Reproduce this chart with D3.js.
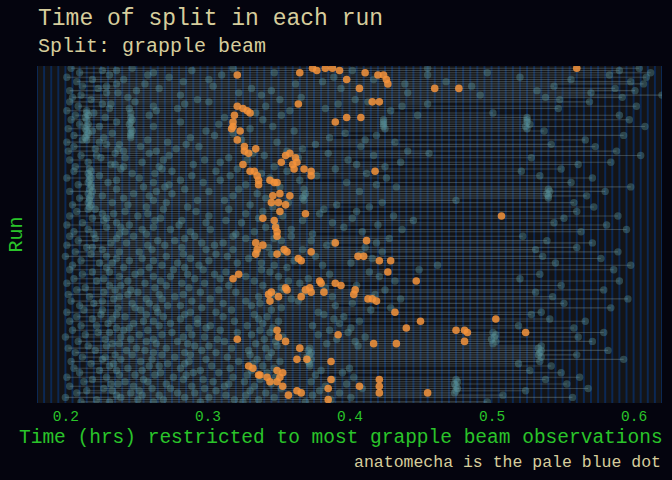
<!DOCTYPE html>
<html><head><meta charset="utf-8">
<script src="https://cdn.jsdelivr.net/npm/d3@7"></script>
<style>html,body{margin:0;padding:0;background:#04040e;}svg{display:block}</style>
</head><body>
<svg id="chart" width="672" height="480"></svg>
<script>
// ---- data (times in thousandths of an hour) ----
const titleText = "Time of split in each run";
const subtitleText = "Split: grapple beam";
const xTitleText = "Time (hrs) restricted to most grapple beam observations";
const yTitleText = "Run";
const captionText = "anatomecha is the pale blue dot";
const xTicks = [0.2, 0.3, 0.4, 0.5, 0.6];
const xTickLabels = ["0.2", "0.3", "0.4", "0.5", "0.6"];
const xDomain = [0.18, 0.62];
const runCount = 150;

// other runners' split times, one array per run (index = run - 1)
const tealRuns = [
[204,247,318,455,604],[226,236,289,402,590],[210,262,347,497,612],[231,258,310,455,583],[201,273,389,520,609],
[219,241,301,417,556],[208,283,381,468,598],[236,256,362,439,607],[212,229,304,486,544],[223,266,331,394,587],
[203,250,345,532,601],[229,237,322,441,570],[211,281,338,492,620],[205,244,366,538,592],[218,293,351,404,548],
[203,249,301,413,569],[226,232,284,392,455],[209,262,341,437,602],[231,245,279,383,547],[201,215,264,358,429],
[220,215,246,334,501],[207,216,259,352,448,590],[228,214,246,312,525],[204,215,247,339,424,525,597],[236,246,281,424,525],
[210,216,245,308,424,527],[224,215,262,346,424,524,608],[202,214,246,330,425,525],[219,215,247,299,361,537],[233,216,246,318,397],
[206,215,246,305,419,593],[227,214,246,288,386],[212,215,258,324,411,566],[201,224,272,349,432],[229,238,285,376,542],
[206,253,294,408,573],[221,237,278,367],[202,241,264,356,441,588],[235,259,332,385,456],[211,222,273,340,417,605],
[225,242,315,364,528],[203,269,298,328,399],[216,254,309,436,584],[232,235,290,405,561],[207,241,266,347,425],
[217,239,268,321,390,549],[206,218,275,306,356,521],[216,247,263,338,412],[224,217,289,316,377,534],[201,218,252,344,426,571],
[217,236,281,309,365],[230,216,262,297,398,556],[209,218,273,327,419],[218,255,270,351,433,598],[236,217,284,322,368,540],
[203,219,264,301,407,541,580],[216,248,275,335,369,539],[226,218,259,318,368,540,567],[210,217,241,341,367,540],[217,262,293,312,368,475],
[233,216,271,357,423,558],[205,218,244,330,391],[217,257,286,346,414,572],[221,216,269,315,382],[208,242,292,339,405,560],
[234,226,258,327,379],[203,251,301,353,431,589],[219,229,267,336,402,551],[227,263,282,313,367,445],[212,236,299,324,388,544],
[201,245,280,348,420,581],[229,239,262,341,396],[216,254,274,302,359,437,595],[206,242,288,333,409,563],[238,220,257,320,374],
[203,248,291,318,359,522],[221,236,284,327,347,428],[209,265,277,352,373,539],[232,243,296,311,389,419,571],[201,258,270,305,384],
[215,219,282,343,411,560],[226,261,299,318,367,531],[207,238,252,335,352,423,589],[218,283,306,345,408],[200,229,271,314,376,536],
[236,254,288,329,416,577],[211,245,262,301,361],[224,233,279,321,338,401,545],[205,268,294,347,381,462,598],[229,241,259,284,356],
[203,276,297,338,449,586],[219,231,253,313,344,414],[212,249,286,305,386,534],[238,262,274,327,350,421],[206,227,291,309,371,520],
[222,244,267,333,357,432,590],[201,256,282,298,365],[231,239,271,315,339,405,549],[214,263,287,352,383],[208,235,246,308,354,425,579],
[227,251,295,320,368,531],[202,244,266,283,347,418],[217,238,277,336,388,543],[234,257,268,302,359,436,596],[204,226,289,327,364],
[220,247,259,311,337,402,551],[210,272,281,331,390],[237,249,264,296,352,429,584],[213,226,253,317,345,415],[201,265,288,306,378,535],
[225,236,257,284,333,382,528],[208,242,269,311,342,396],[219,233,281,293,336,389,541],[203,255,262,319,350,407,566],[230,248,274,293,339,393],
[211,222,266,302,328,374,519],[236,245,287,299,346,401,558],[205,241,258,309,337,386],[223,231,275,321,344,399,501,579],[214,252,268,289,331,378,503],
[200,239,283,298,353,411,502,561],[228,246,262,307,340,391,500],[209,257,279,312,348,404,503,571],[233,238,264,286,334,384,501],[216,229,291,301,349,406,535],
[202,250,271,317,341,372,533],[221,243,256,296,329,371,535,582],[207,262,284,306,345,373,534],[235,247,268,288,330,372,533,560],[212,228,277,314,343,370,535],
[226,239,261,299,335,373,593],[204,253,287,322,351,371,534],[218,234,272,284,332,372,519],[231,259,266,303,339,372,542],[206,244,281,316,347,400],
[224,236,254,295,331,380,527],[210,267,290,308,342,395,549],[238,249,263,285,328,376],[201,229,276,318,348,403,562],[219,255,283,297,337,388,475,538],
[213,242,258,304,326,373,476],[232,237,271,315,345,398,474,553],[203,248,289,312,333,383,475],[227,261,274,298,352,409,476,568],[215,233,252,306,330,379,475,524],
[208,246,279,291,341,393,474],[236,254,266,313,327,374,508],[200,239,284,301,347,401,557],[222,251,269,319,336,387],[211,231,262,295,325,369,497]
];

// anatomecha's split times: [run, time]
const anaPoints = [
[4,321],[3,365],[1,374],[2,377],[1,383],[1,388],[2,393],[6,398],[3,411],[4,420],[4,424],[6,426],[8,427],[10,407],[17,364],[16,416],[16,421],[10,460],[10,477],[1,560],
[18,321],[19,325],[20,328],[21,330],[22,319],[25,318],[27,318],[28,317],[29,323],[25,390],[23,398],[23,408],
[33,321],[36,326],[38,326],[39,329],[37,334],[39,358],[40,355],[43,352],[41,362],[44,360],[46,361],[43,363],[46,368],[47,373],[49,373],[47,418],[44,325],[47,330],[47,333],[51,336],[53,336],[49,335],[51,344],[52,347],[52,349],
[57,351],[58,346],[61,345],[61,350],[62,355],[65,351],[58,358],[66,369],[68,339],[69,347],[72,348],[74,349],[67,507],
[76,349],[79,334],[80,339],[82,335],[84,334],[84,349],[82,354],[83,356],[86,364],[87,366],[83,373],[79,390],[78,412],[85,406],[85,410],[87,421],[87,429],[92,427],[95,318],[93,322],[96,379],[97,380],[97,390],[98,394],[96,447],
[101,345],[102,343],[105,344],[103,350],[99,355],[100,356],[100,369],[99,372],[101,373],[103,366],[101,382],[100,404],[102,403],[104,413],[104,416],[105,419],[110,432],[114,450],[117,440],
[122,321],[118,349],[121,350],[123,355],[120,392],[124,417],[124,433],[126,365],[131,363],[131,370],[132,387],[134,329],[135,332],[138,336],[138,337],[139,342],[141,344],[136,349],[137,353],[139,351],[141,349],[143,353],[147,357],[145,363],[146,366],[144,385],[149,385],[140,387],[143,407],[140,421],[143,421],[146,421],[146,455],
[113,503],[118,475],[118,481],[119,483],[123,481],[119,524]
];

// ---- drawing ----
const W = 672, H = 480;
const svg = d3.select("#chart");
const panel = {l: 37, r: 662, t: 66, b: 403};
const x = d3.scaleLinear().domain(xDomain).range([panel.l, panel.r]);
const y = d3.scaleLinear().domain([0, runCount + 0.5]).range([panel.t, panel.b]);
const fontMono = "'Liberation Mono', 'Courier New', monospace";
const beige = "#d6cd9c", green = "#2ac42a";

svg.append("rect").attr("width", W).attr("height", H).attr("fill", "#04040e");

svg.append("defs").append("clipPath").attr("id", "clip")
  .append("rect").attr("x", panel.l).attr("y", panel.t)
  .attr("width", panel.r - panel.l).attr("height", panel.b - panel.t);

const g = svg.append("g").attr("clip-path", "url(#clip)");
g.append("rect").attr("x", panel.l).attr("y", panel.t)
  .attr("width", panel.r - panel.l).attr("height", panel.b - panel.t)
  .attr("fill", "#141416");

// fine vertical grid
const grid = d3.range(180, 621, 5).map(v => v / 1000);
g.selectAll("line.vg").data(grid).join("line").attr("class", "vg")
  .attr("x1", d => x(d)).attr("x2", d => x(d))
  .attr("y1", panel.t).attr("y2", panel.b)
  .attr("stroke", "#0b2854").attr("stroke-width", 2);

// run spans
const runs = tealRuns.map((vals, i) => {
  const run = i + 1;
  const all = vals.concat(anaPoints.filter(p => p[0] === run).map(p => p[1]));
  return {run, vals, lo: d3.min(all) / 1000, hi: d3.max(all) / 1000};
});
g.selectAll("line.span").data(runs).join("line").attr("class", "span")
  .attr("x1", d => x(d.lo)).attr("x2", d => x(d.hi))
  .attr("y1", d => y(d.run)).attr("y2", d => y(d.run))
  .attr("stroke", "#93a8aa").attr("stroke-opacity", 0.32).attr("stroke-width", 1.1);

// other runners
const tealPts = runs.flatMap(r => r.vals.map(v => ({run: r.run, t: v / 1000})));
g.selectAll("circle.teal").data(tealPts).join("circle").attr("class", "teal")
  .attr("cx", d => x(d.t)).attr("cy", d => y(d.run)).attr("r", 3.7)
  .attr("fill", "#5e9aa0").attr("fill-opacity", 0.36);

// anatomecha
g.selectAll("circle.ana").data(anaPoints).join("circle").attr("class", "ana")
  .attr("cx", d => x(d[1] / 1000)).attr("cy", d => y(d[0])).attr("r", 3.8)
  .attr("fill", "#f5933b").attr("fill-opacity", 0.85);

// x axis
const axis = d3.axisBottom(x).tickValues(xTicks)
  .tickFormat((d, i) => xTickLabels[i]).tickSize(0);
const ax = svg.append("g").attr("transform", `translate(0,${panel.b})`).call(axis);
ax.select(".domain").remove();
ax.selectAll("text").attr("y", 18).attr("dy", 0)
  .attr("fill", green).style("font-family", fontMono).style("font-size", "14.5px");

// titles
svg.append("text").attr("x", 38).attr("y", 25).text(titleText)
  .attr("fill", beige).style("font-family", fontMono).style("font-size", "23px");
svg.append("text").attr("x", 38).attr("y", 52).text(subtitleText)
  .attr("fill", beige).style("font-family", fontMono).style("font-size", "20px");
svg.append("text").attr("x", 19).attr("y", 443).text(xTitleText)
  .attr("fill", green).style("font-family", fontMono).style("font-size", "19.5px");
svg.append("text").attr("transform", `translate(22,${(panel.t + panel.b) / 2}) rotate(-90)`)
  .attr("text-anchor", "middle").text(yTitleText)
  .attr("fill", green).style("font-family", fontMono).style("font-size", "20px");
svg.append("text").attr("x", 661).attr("y", 467).attr("text-anchor", "end").text(captionText)
  .attr("fill", beige).style("font-family", fontMono).style("font-size", "16.5px");
</script>
</body></html>
